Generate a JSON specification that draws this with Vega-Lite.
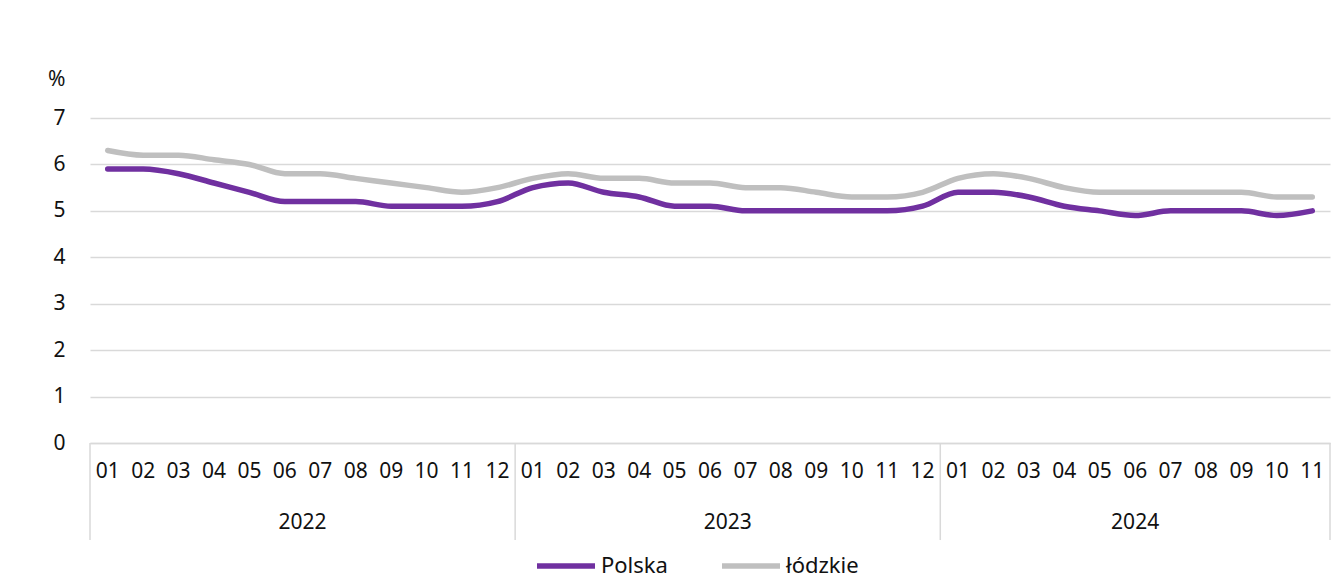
{
  "$schema": "https://vega.github.io/schema/vega-lite/v6.json",
  "width": 1240,
  "height": 325,
  "autosize": "none",
  "padding": {"left": 90, "top": 118, "right": 14, "bottom": 138},
  "background": "white",
  "config": {
    "view": {"stroke": null},
    "font": "Noto Sans",
    "axis": {"labelFont": "Noto Sans", "titleFont": "Noto Sans"},
    "legend": {"labelFont": "Noto Sans"}
  },
  "datasets": {
    "main": [
      {"t": "2022-01", "series": "Polska", "v": 5.9}, {"t": "2022-02", "series": "Polska", "v": 5.9},
      {"t": "2022-03", "series": "Polska", "v": 5.8}, {"t": "2022-04", "series": "Polska", "v": 5.6},
      {"t": "2022-05", "series": "Polska", "v": 5.4}, {"t": "2022-06", "series": "Polska", "v": 5.2},
      {"t": "2022-07", "series": "Polska", "v": 5.2}, {"t": "2022-08", "series": "Polska", "v": 5.2},
      {"t": "2022-09", "series": "Polska", "v": 5.1}, {"t": "2022-10", "series": "Polska", "v": 5.1},
      {"t": "2022-11", "series": "Polska", "v": 5.1}, {"t": "2022-12", "series": "Polska", "v": 5.2},
      {"t": "2023-01", "series": "Polska", "v": 5.5}, {"t": "2023-02", "series": "Polska", "v": 5.6},
      {"t": "2023-03", "series": "Polska", "v": 5.4}, {"t": "2023-04", "series": "Polska", "v": 5.3},
      {"t": "2023-05", "series": "Polska", "v": 5.1}, {"t": "2023-06", "series": "Polska", "v": 5.1},
      {"t": "2023-07", "series": "Polska", "v": 5.0}, {"t": "2023-08", "series": "Polska", "v": 5.0},
      {"t": "2023-09", "series": "Polska", "v": 5.0}, {"t": "2023-10", "series": "Polska", "v": 5.0},
      {"t": "2023-11", "series": "Polska", "v": 5.0}, {"t": "2023-12", "series": "Polska", "v": 5.1},
      {"t": "2024-01", "series": "Polska", "v": 5.4}, {"t": "2024-02", "series": "Polska", "v": 5.4},
      {"t": "2024-03", "series": "Polska", "v": 5.3}, {"t": "2024-04", "series": "Polska", "v": 5.1},
      {"t": "2024-05", "series": "Polska", "v": 5.0}, {"t": "2024-06", "series": "Polska", "v": 4.9},
      {"t": "2024-07", "series": "Polska", "v": 5.0}, {"t": "2024-08", "series": "Polska", "v": 5.0},
      {"t": "2024-09", "series": "Polska", "v": 5.0}, {"t": "2024-10", "series": "Polska", "v": 4.9},
      {"t": "2024-11", "series": "Polska", "v": 5.0},
      {"t": "2022-01", "series": "łódzkie", "v": 6.3}, {"t": "2022-02", "series": "łódzkie", "v": 6.2},
      {"t": "2022-03", "series": "łódzkie", "v": 6.2}, {"t": "2022-04", "series": "łódzkie", "v": 6.1},
      {"t": "2022-05", "series": "łódzkie", "v": 6.0}, {"t": "2022-06", "series": "łódzkie", "v": 5.8},
      {"t": "2022-07", "series": "łódzkie", "v": 5.8}, {"t": "2022-08", "series": "łódzkie", "v": 5.7},
      {"t": "2022-09", "series": "łódzkie", "v": 5.6}, {"t": "2022-10", "series": "łódzkie", "v": 5.5},
      {"t": "2022-11", "series": "łódzkie", "v": 5.4}, {"t": "2022-12", "series": "łódzkie", "v": 5.5},
      {"t": "2023-01", "series": "łódzkie", "v": 5.7}, {"t": "2023-02", "series": "łódzkie", "v": 5.8},
      {"t": "2023-03", "series": "łódzkie", "v": 5.7}, {"t": "2023-04", "series": "łódzkie", "v": 5.7},
      {"t": "2023-05", "series": "łódzkie", "v": 5.6}, {"t": "2023-06", "series": "łódzkie", "v": 5.6},
      {"t": "2023-07", "series": "łódzkie", "v": 5.5}, {"t": "2023-08", "series": "łódzkie", "v": 5.5},
      {"t": "2023-09", "series": "łódzkie", "v": 5.4}, {"t": "2023-10", "series": "łódzkie", "v": 5.3},
      {"t": "2023-11", "series": "łódzkie", "v": 5.3}, {"t": "2023-12", "series": "łódzkie", "v": 5.4},
      {"t": "2024-01", "series": "łódzkie", "v": 5.7}, {"t": "2024-02", "series": "łódzkie", "v": 5.8},
      {"t": "2024-03", "series": "łódzkie", "v": 5.7}, {"t": "2024-04", "series": "łódzkie", "v": 5.5},
      {"t": "2024-05", "series": "łódzkie", "v": 5.4}, {"t": "2024-06", "series": "łódzkie", "v": 5.4},
      {"t": "2024-07", "series": "łódzkie", "v": 5.4}, {"t": "2024-08", "series": "łódzkie", "v": 5.4},
      {"t": "2024-09", "series": "łódzkie", "v": 5.4}, {"t": "2024-10", "series": "łódzkie", "v": 5.3},
      {"t": "2024-11", "series": "łódzkie", "v": 5.3}
    ],
    "seps": [{"t": "2022-01"}, {"t": "2023-01"}, {"t": "2024-01"}],
    "sepEnd": [{"t": "2024-11"}],
    "years": [{"t": "2022-07", "year": "2022"}, {"t": "2023-07", "year": "2023"}],
    "yearLast": [{"t": "2024-06", "year": "2024"}]
  },
  "layer": [
    {
      "data": {"name": "main"},
      "mark": {"type": "line", "interpolate": "monotone", "strokeWidth": 5.5, "strokeCap": "round"},
      "encoding": {
        "x": {
          "field": "t", "type": "ordinal", "sort": "ascending",
          "scale": {"type": "band", "paddingInner": 0, "paddingOuter": 0},
          "axis": {
            "title": null, "labelExpr": "slice(datum.value, 5)", "labelAngle": 0,
            "labelFontSize": 21, "labelFontWeight": "normal", "labelColor": "#111111", "labelPadding": 17,
            "ticks": false, "domainColor": "#d9d9d9", "domainWidth": 1.5, "grid": false
          }
        },
        "y": {
          "field": "v", "type": "quantitative",
          "scale": {"domain": [0, 7], "nice": false},
          "axis": {
            "title": "%", "titleAngle": 0, "titleAlign": "right", "titleBaseline": "alphabetic",
            "titleX": -25, "titleY": -33, "titleFontSize": 21, "titleFontWeight": "normal", "titleColor": "#111111",
            "values": [0, 1, 2, 3, 4, 5, 6, 7], "labelFontSize": 21, "labelFontWeight": "normal", "labelColor": "#111111",
            "labelPadding": 25, "ticks": false, "domain": false, "gridColor": "#d9d9d9", "gridWidth": 1.5
          }
        },
        "color": {
          "field": "series", "type": "nominal",
          "scale": {"domain": ["Polska", "łódzkie"], "range": ["#7030a0", "#bfbfbf"]},
          "legend": {
            "title": null, "orient": "none", "direction": "horizontal",
            "legendX": 444, "legendY": 416,
            "symbolType": "stroke", "symbolSize": 3364, "symbolStrokeWidth": 5.5,
            "labelFontSize": 22, "labelFontWeight": "normal", "labelColor": "#111111", "labelOffset": 3, "columnPadding": 43
          }
        }
      }
    },
    {
      "data": {"name": "seps"},
      "mark": {"type": "rule", "color": "#d9d9d9", "strokeWidth": 1.5},
      "encoding": {
        "x": {"field": "t", "type": "ordinal", "bandPosition": 0, "scale": {"type": "band", "paddingInner": 0, "paddingOuter": 0}},
        "y": {"datum": 0},
        "y2": {"datum": -2.09}
      }
    },
    {
      "data": {"name": "sepEnd"},
      "mark": {"type": "rule", "color": "#d9d9d9", "strokeWidth": 1.5},
      "encoding": {
        "x": {"field": "t", "type": "ordinal", "bandPosition": 1, "scale": {"type": "band", "paddingInner": 0, "paddingOuter": 0}},
        "y": {"datum": 0},
        "y2": {"datum": -2.09}
      }
    },
    {
      "data": {"name": "years"},
      "mark": {"type": "text", "fontSize": 21, "fontWeight": "normal", "color": "#111111", "baseline": "middle", "align": "center"},
      "encoding": {
        "x": {"field": "t", "type": "ordinal", "bandPosition": 0, "scale": {"type": "band", "paddingInner": 0, "paddingOuter": 0}},
        "y": {"datum": -1.72},
        "text": {"field": "year"}
      }
    },
    {
      "data": {"name": "yearLast"},
      "mark": {"type": "text", "fontSize": 21, "fontWeight": "normal", "color": "#111111", "baseline": "middle", "align": "center"},
      "encoding": {
        "x": {"field": "t", "type": "ordinal", "bandPosition": 0.5, "scale": {"type": "band", "paddingInner": 0, "paddingOuter": 0}},
        "y": {"datum": -1.72},
        "text": {"field": "year"}
      }
    }
  ]
}
